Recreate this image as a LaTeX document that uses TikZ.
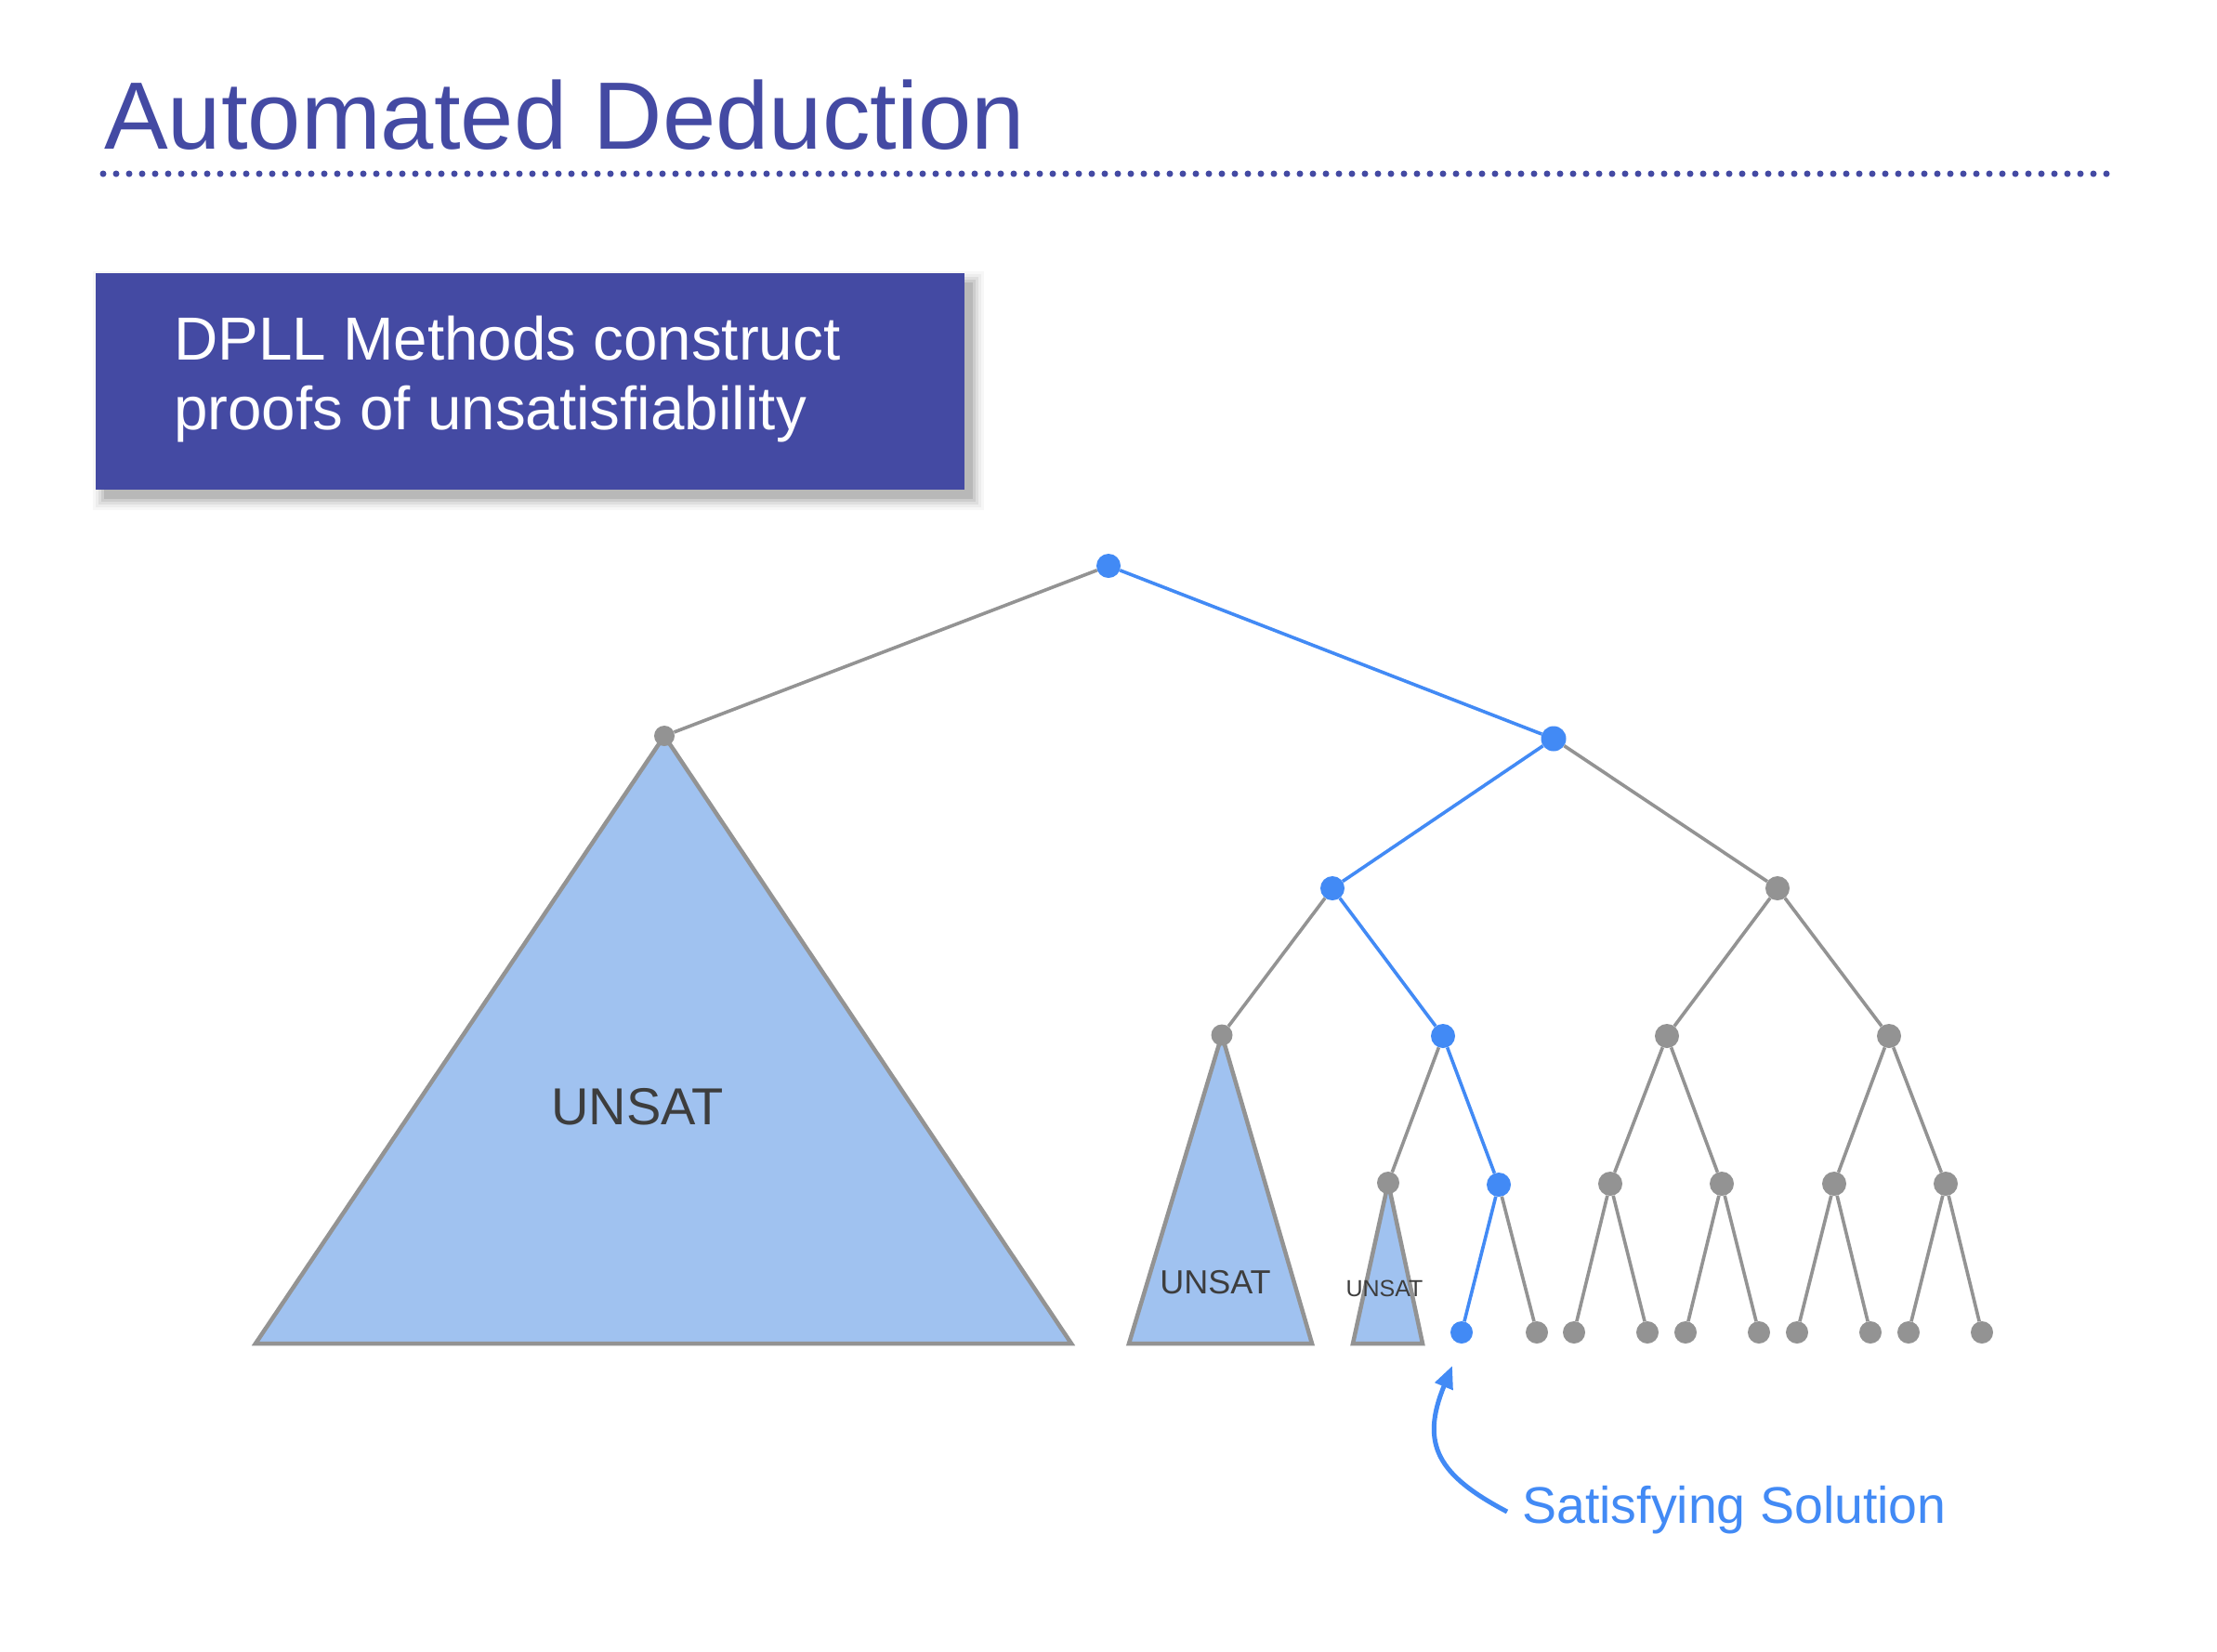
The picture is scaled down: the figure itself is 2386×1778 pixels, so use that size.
\documentclass[tikz,border=0pt]{standalone}
\usepackage{fontspec}
\setmainfont{Liberation Sans}
\usetikzlibrary{arrows.meta}
\definecolor{purp}{HTML}{444AA3}
\definecolor{tgray}{HTML}{939393}
\definecolor{tblue}{HTML}{428AF5}
\definecolor{tfill}{HTML}{A0C2F0}
\definecolor{tdark}{HTML}{3D3D3D}
\begin{document}
\begin{tikzpicture}[x=1pt,y=-1pt,
  gdot/.style={circle,fill=tgray,inner sep=0pt,minimum size=26pt},
  bdot/.style={circle,fill=tblue,inner sep=0pt,minimum size=26pt},
  gedge/.style={draw=tgray,line width=3.6pt},
  bedge/.style={draw=tblue,line width=3.6pt},
  tri/.style={draw=tgray,fill=tfill,line width=4.5pt,line join=miter},
  lbl/.style={inner sep=0pt,anchor=base,text=tdark}]
\useasboundingbox (0,0) rectangle (2386,1778);
\fill[white] (0,0) rectangle (2386,1778);
% title
\node[inner sep=0pt,anchor=base west,text=purp,font=\fontsize{103}{120}\selectfont] (title) at (112,160) {Automated Deduction};
\coordinate (dl) at (111,187);
\coordinate (dr) at (2268,187);
\draw[purp,line width=7pt,line cap=round,dash pattern=on 0pt off 14pt] (dl) -- (dr);
% shadow
\foreach \k/\o in {0/0.10,3/0.08,6/0.06,9/0.04,12/0.03}{
  \fill[black,opacity=\o] (112-\k,304-\k) rectangle (1047+\k,537+\k);
}
\node[fill=purp,inner sep=0pt,minimum width=935pt,minimum height=233pt,anchor=north west] (box) at (103,294) {};
\node[inner sep=0pt,anchor=base west,text=white,font=\fontsize{65.5}{75}\selectfont] (bt1) at (187,387) {DPLL Methods construct};
\node[inner sep=0pt,anchor=base west,text=white,font=\fontsize{65.5}{75}\selectfont] (bt2) at (187,462) {proofs of unsatisfiability};
% tree node positions
\coordinate (pr) at (1193,609);
\coordinate (pa) at (715,792);
\coordinate (pb) at (1672,795);
\coordinate (pc) at (1434,956);
\coordinate (pd) at (1913,956);
\coordinate (pe) at (1315,1114);
\coordinate (pf) at (1553,1115);
\coordinate (pg) at (1794,1115);
\coordinate (ph) at (2033,1115);
\coordinate (pi) at (1494,1273);
\coordinate (pj) at (1613,1275);
\coordinate (pk) at (1733,1274);
\coordinate (pl) at (1853,1274);
\coordinate (pm) at (1974,1274);
\coordinate (pn) at (2094,1274);
% triangles
\coordinate (ta1) at (275,1446);
\coordinate (ta2) at (1153,1446);
\coordinate (tb1) at (1215,1446);
\coordinate (tb2) at (1412,1446);
\coordinate (tc1) at (1456,1446);
\coordinate (tc2) at (1531,1446);
\draw[tri] (pa) -- (ta1) -- (ta2) -- cycle;
\draw[tri] (pe) -- (tb1) -- (tb2) -- cycle;
\draw[tri] (pi) -- (tc1) -- (tc2) -- cycle;
\node[lbl,font=\fontsize{56}{60}\selectfont] (u1) at (686,1210) {UNSAT};
\node[lbl,font=\fontsize{36}{40}\selectfont] (u2) at (1308,1392) {UNSAT};
\node[lbl,font=\fontsize{25}{28}\selectfont] (u3) at (1490,1395) {UNSAT};
% nodes
\node[bdot] (r) at (pr) {};
\node[gdot,minimum size=22pt] (a) at (pa) {};
\node[bdot,minimum size=27pt] (b) at (pb) {};
\node[bdot] (c) at (pc) {};
\node[gdot] (d) at (pd) {};
\node[gdot,minimum size=23pt] (e) at (pe) {};
\node[bdot] (f) at (pf) {};
\node[gdot] (g) at (pg) {};
\node[gdot] (h) at (ph) {};
\node[gdot,minimum size=24pt] (i) at (pi) {};
\node[bdot] (j) at (pj) {};
\node[gdot] (k) at (pk) {};
\node[gdot] (l) at (pl) {};
\node[gdot] (m) at (pm) {};
\node[gdot] (n) at (pn) {};
\node[bdot,minimum size=24pt] (s1) at (1573,1434) {};
\foreach \nm/\xx in {s2/1654,s3/1694,s4/1773,s5/1814,s6/1893,s7/1934,s8/2013,s9/2054,s10/2133}{
  \node[gdot,minimum size=24pt] (\nm) at (\xx,1434) {};
}
% edges
\draw[gedge] (r) -- (a);
\draw[bedge] (r) -- (b);
\draw[bedge] (b) -- (c);
\draw[gedge] (b) -- (d);
\draw[gedge] (c) -- (e);
\draw[bedge] (c) -- (f);
\draw[gedge] (d) -- (g);
\draw[gedge] (d) -- (h);
\draw[gedge] (f) -- (i);
\draw[bedge] (f) -- (j);
\draw[gedge] (g) -- (k);
\draw[gedge] (g) -- (l);
\draw[gedge] (h) -- (m);
\draw[gedge] (h) -- (n);
\draw[bedge] (j) -- (s1);
\draw[gedge] (j) -- (s2);
\draw[gedge] (k) -- (s3);
\draw[gedge] (k) -- (s4);
\draw[gedge] (l) -- (s5);
\draw[gedge] (l) -- (s6);
\draw[gedge] (m) -- (s7);
\draw[gedge] (m) -- (s8);
\draw[gedge] (n) -- (s9);
\draw[gedge] (n) -- (s10);
% satisfying solution
\node[inner sep=0pt,anchor=base west,text=tblue,font=\fontsize{55.5}{60}\selectfont] (sat) at (1638,1639) {Satisfying Solution};
\coordinate (arrS) at (1622,1627);
\coordinate (arrE) at (1563,1470);
\draw[tblue,line width=5pt,-{Triangle[length=24pt,width=20pt]}] (arrS) .. controls (1548,1588) and (1528,1555) .. (arrE);
\end{tikzpicture}
\end{document}
